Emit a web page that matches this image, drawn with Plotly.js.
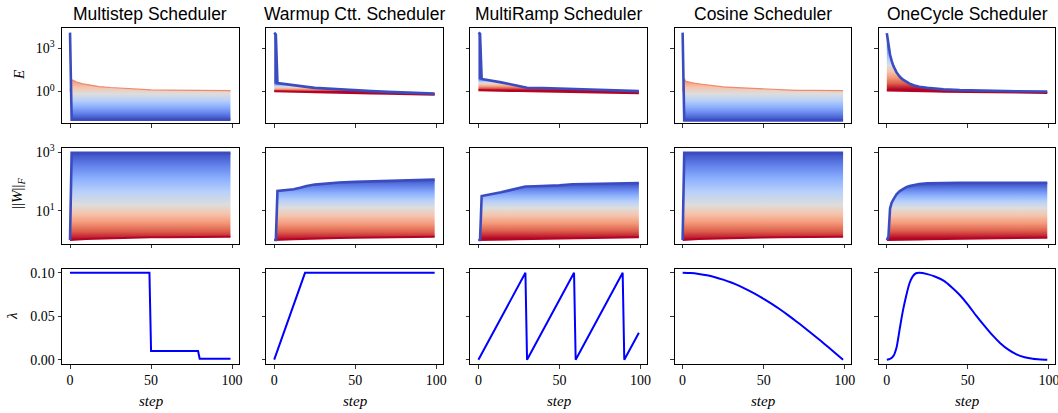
<!DOCTYPE html>
<html><head><meta charset="utf-8">
<script src="https://cdn.plot.ly/plotly-3.0.1.min.js"></script>
<style>html,body{margin:0;padding:0;background:#fff}</style>
</head><body><div id="chart" style="width:1058px;height:413px"></div>
<script>
// ================= DATA =================
const schedulerTitles = ["Multistep Scheduler", "Warmup Ctt. Scheduler", "MultiRamp Scheduler", "Cosine Scheduler", "OneCycle Scheduler"];
const xTickVals = [0, 50, 100];
const eTickVals = [1, 1000];
const eTickText = ["10<sup>0</sup>", "10<sup>3</sup>"];
const wTickVals = [10, 1000];
const wTickText = ["10<sup>1</sup>", "10<sup>3</sup>"];
const lrTickVals = [0, 0.05, 0.1];

// Row 1: E  (bluest curve and reddest curve of each family)
const msE_steps = [0, 1, 2, 4, 8, 12, 18, 25, 30, 40, 50, 60, 70, 80, 90, 99];
const msE_blue  = [12000, 0.011, 0.011, 0.011, 0.011, 0.011, 0.011, 0.011, 0.011, 0.011, 0.011, 0.011, 0.011, 0.011, 0.011, 0.011];
const msE_red   = [1.0, 6.5, 6.0, 4.6, 3.4, 2.8, 2.2, 1.9, 1.75, 1.5, 1.3, 1.25, 1.22, 1.2, 1.18, 1.17];

const wuE_steps = [0, 1, 2, 4, 8, 12, 16, 20, 25, 30, 40, 50, 60, 70, 80, 90, 99];
const wuE_blue  = [12000, 9000, 3.8, 3.6, 3.2, 2.8, 2.4, 2.1, 1.8, 1.66, 1.35, 1.17, 1.07, 0.95, 0.83, 0.78, 0.72];
const wuE_red   = [1.05, 1.05, 1.04, 1.03, 1.02, 1.0, 0.97, 0.94, 0.9, 0.86, 0.81, 0.76, 0.73, 0.69, 0.66, 0.62, 0.59];

const mrE_steps = [0, 1, 2, 5, 9, 14, 19, 24, 28, 30, 40, 48, 56, 65, 79, 81, 90, 99];
const mrE_blue  = [12000, 10000, 7.4, 6.6, 5.4, 4.3, 3.3, 2.6, 2.15, 1.82, 1.75, 1.62, 1.48, 1.4, 1.26, 1.15, 1.1, 1.07];
const mrE_red   = [1.23, 1.23, 1.22, 1.2, 1.17, 1.13, 1.1, 1.07, 1.06, 1.05, 1.0, 0.96, 0.93, 0.9, 0.84, 0.83, 0.8, 0.76];

const cosE_steps = [0, 1, 2, 4, 7, 12, 18, 25, 30, 40, 50, 60, 70, 80, 90, 99];
const cosE_blue  = [12000, 0.010, 0.010, 0.010, 0.010, 0.010, 0.010, 0.010, 0.010, 0.010, 0.010, 0.010, 0.010, 0.010, 0.010, 0.010];
const cosE_red   = [1.0, 8.0, 5.0, 4.3, 3.8, 3.2, 2.6, 2.1, 1.95, 1.7, 1.45, 1.3, 1.22, 1.2, 1.18, 1.17];

const ocE_steps = [0, 1, 2, 3, 4, 6, 8, 10, 12, 14, 17, 20, 25, 30, 35, 45, 55, 65, 80, 99];
const ocE_blue  = [11000, 1600, 355, 132, 60, 21, 10.5, 6.6, 4.6, 3.5, 2.6, 2.14, 1.78, 1.55, 1.41, 1.26, 1.17, 1.1, 1.05, 1.0];
const ocE_red   = [1.2, 1.19, 1.18, 1.17, 1.16, 1.14, 1.12, 1.1, 1.09, 1.08, 1.06, 1.05, 1.03, 1.0, 0.98, 0.95, 0.92, 0.89, 0.85, 0.8];

// Row 2: ||W||_F
const msW_steps = [0, 1, 2, 5, 10, 20, 30, 40, 50, 60, 70, 80, 90, 99];
const msW_blue  = [1.0, 960, 960, 960, 960, 960, 960, 960, 960, 960, 960, 960, 960, 960];
const msW_red   = [1.0, 1.0, 1.02, 1.05, 1.08, 1.13, 1.17, 1.2, 1.23, 1.25, 1.26, 1.27, 1.28, 1.29];

const wuW_steps = [0, 1, 2, 5, 8, 12, 16, 20, 25, 30, 40, 50, 60, 70, 80, 90, 99];
const wuW_blue  = [1.0, 1.0, 48, 50, 52.5, 55, 62, 71, 79, 85, 93, 98, 102, 105, 110, 112, 117];
const wuW_red   = [1.0, 1.0, 1.0, 1.02, 1.04, 1.07, 1.09, 1.11, 1.13, 1.15, 1.17, 1.2, 1.22, 1.25, 1.27, 1.29, 1.3];

const mrW_steps = [0, 1, 2, 5, 9, 14, 19, 24, 29, 35, 40, 50, 58, 65, 70, 80, 87, 99];
const mrW_blue  = [1.0, 1.0, 32, 34, 37, 43, 50, 59, 68, 69, 69.5, 74, 81, 83, 83.5, 85, 87, 89];
const mrW_red   = [1.0, 1.0, 1.0, 1.0, 1.01, 1.03, 1.05, 1.07, 1.08, 1.1, 1.11, 1.13, 1.15, 1.17, 1.18, 1.2, 1.21, 1.23];

const cosW_steps = [0, 1, 2, 5, 10, 20, 30, 40, 50, 60, 70, 80, 90, 99];
const cosW_blue  = [1.0, 960, 960, 960, 960, 960, 960, 960, 960, 960, 960, 960, 960, 960];
const cosW_red   = [1.0, 1.0, 1.02, 1.05, 1.08, 1.13, 1.17, 1.2, 1.22, 1.24, 1.26, 1.27, 1.28, 1.29];

const ocW_steps = [0, 1, 2, 3, 4, 6, 8, 10, 12, 14, 16, 20, 25, 30, 35, 45, 60, 80, 99];
const ocW_blue  = [1.0, 1.3, 12, 19, 24, 37, 47, 56, 64, 70, 75, 82, 87, 89, 90, 91, 91, 91, 91];
const ocW_red   = [1.0, 1.0, 1.0, 1.0, 1.0, 1.0, 1.0, 1.01, 1.02, 1.03, 1.04, 1.05, 1.07, 1.08, 1.09, 1.11, 1.14, 1.17, 1.2];

// Row 3: learning rate lambda
const msL_steps = [0, 49, 50, 79, 80, 99];
const msL_lr    = [0.1, 0.1, 0.01, 0.01, 0.001, 0.001];
const wuL_steps = [0, 19, 99];
const wuL_lr    = [0, 0.1, 0.1];
const mrL_steps = [0, 29, 30, 59, 60, 89, 90, 99];
const mrL_lr    = [0, 0.1, 0, 0.1, 0, 0.1, 0, 0.031];
const cosL_steps = [0, 5, 10, 15, 20, 25, 30, 35, 40, 45, 50, 55, 60, 65, 70, 75, 80, 85, 90, 95, 99];
const cosL_lr    = [0.1, 0.0997, 0.0987, 0.0972, 0.095, 0.0922, 0.0889, 0.085, 0.0805, 0.0756, 0.0701, 0.0643, 0.058, 0.0513, 0.0443, 0.0371, 0.0296, 0.022, 0.0142, 0.0063, 0];
const ocL_steps = [0, 2, 4, 6, 8, 10, 12, 14, 16, 18, 20, 25, 30, 35, 40, 45, 50, 55, 60, 65, 70, 75, 80, 85, 90, 95, 99];
const ocL_lr    = [0, 0.0008, 0.004, 0.014, 0.036, 0.057, 0.074, 0.088, 0.096, 0.0995, 0.1, 0.0985, 0.0955, 0.091, 0.0835, 0.0745, 0.0635, 0.051, 0.0395, 0.0285, 0.019, 0.0115, 0.006, 0.0028, 0.001, 0.0003, 0];

// ================= STYLE / LAYOUT =================
const W = 1058, H = 413;
const colLeft = [62, 266.2, 470.4, 674.6, 878.8];
const colWidth = 176.5;
const rowTop = [28, 148, 268.5];
const rowBot = [123, 243.5, 364];
const coolwarm = [[0,'#3b4cc0'],[0.125,'#6282ea'],[0.25,'#8db0fe'],[0.375,'#b8d0f9'],[0.5,'#dddddd'],[0.625,'#f5c4ad'],[0.75,'#f49a7b'],[0.875,'#de604d'],[1,'#b40426']];
const BLUE = '#3b4cc0', RED = '#b40426';
const CLEAR = 'rgba(0,0,0,0)';

// gradient anchors in log10 units: [blue end, neutral, red end]
const panels = [
  {r:0, c:0, s:msE_steps,  b:msE_blue,  d:msE_red,  g:[-1.96,-0.16,1.64], rc:'#ef8a6c', rw:1.2},
  {r:0, c:1, s:wuE_steps,  b:wuE_blue,  d:wuE_red,  g:[0.58,0.32,0.0],   rc:RED, rw:2},
  {r:0, c:2, s:mrE_steps,  b:mrE_blue,  d:mrE_red,  g:[0.9,0.6,0.1],     rc:RED, rw:2},
  {r:0, c:3, s:cosE_steps, b:cosE_blue, d:cosE_red, g:[-2.0,-0.16,1.64], rc:'#ef8a6c', rw:1.2},
  {r:0, c:4, s:ocE_steps,  b:ocE_blue,  d:ocE_red,  g:[3.5,1.8,0.15],    rc:RED, rw:2},
  {r:1, c:0, s:msW_steps,  b:msW_blue,  d:msW_red,  g:[3.0,1.2,0.0],     rc:RED, rw:2},
  {r:1, c:1, s:wuW_steps,  b:wuW_blue,  d:wuW_red,  g:[2.1,1.1,0.0],     rc:RED, rw:2},
  {r:1, c:2, s:mrW_steps,  b:mrW_blue,  d:mrW_red,  g:[1.95,1.1,0.05],   rc:RED, rw:2},
  {r:1, c:3, s:cosW_steps, b:cosW_blue, d:cosW_red, g:[3.0,1.2,0.0],     rc:RED, rw:2},
  {r:1, c:4, s:ocW_steps,  b:ocW_blue,  d:ocW_red,  g:[1.95,1.1,0.05],   rc:RED, rw:2}
];
const lrPanels = [
  {c:0, s:msL_steps, y:msL_lr, smooth:false}, {c:1, s:wuL_steps, y:wuL_lr, smooth:false},
  {c:2, s:mrL_steps, y:mrL_lr, smooth:false}, {c:3, s:cosL_steps, y:cosL_lr, smooth:true},
  {c:4, s:ocL_steps, y:ocL_lr, smooth:true}
];

function gradientFor(g) {
  const lb = g[0], lg = g[1], lr = g[2];
  const lo = Math.min(lb, lr), hi = Math.max(lb, lr);
  const blueLow = lb < lr;
  const gp = (lg - lo) / (hi - lo);
  const stops = coolwarm.map(function(e) {
    const u = blueLow ? e[0] : 1 - e[0];
    let p = u <= 0.5 ? (u / 0.5) * gp : gp + ((u - 0.5) / 0.5) * (1 - gp);
    p = Math.round(p * 1e6) / 1e6;
    return [p, e[1]];
  }).sort(function(a, b) { return a[0] - b[0]; });
  stops[0][0] = 0; stops[stops.length - 1][0] = 1;
  return {type: 'vertical', colorscale: stops, start: Math.pow(10, lo), stop: Math.pow(10, hi)};
}

function axId(r, c) { return r * 5 + c + 1; }
const traces = [];
panels.forEach(function(p) {
  const k = axId(p.r, p.c);
  const xa = 'x' + k, ya = 'y' + k;
  traces.push({x: p.s, y: p.d, xaxis: xa, yaxis: ya, mode: 'lines', line: {color: CLEAR, width: 0.5},
    hoverinfo: 'skip', showlegend: false});
  traces.push({x: p.s, y: p.b, xaxis: xa, yaxis: ya, mode: 'lines', line: {color: CLEAR, width: 0.5},
    fill: 'tonexty', fillcolor: '#dddddd', fillgradient: gradientFor(p.g), hoverinfo: 'skip', showlegend: false});
  traces.push({x: p.s, y: p.d, xaxis: xa, yaxis: ya, mode: 'lines', line: {color: p.rc, width: p.rw}, hoverinfo: 'skip', showlegend: false});
  traces.push({x: p.s, y: p.b, xaxis: xa, yaxis: ya, mode: 'lines', line: {color: BLUE, width: 2.6}, hoverinfo: 'skip', showlegend: false});
});
lrPanels.forEach(function(p) {
  const k = axId(2, p.c);
  const ln = p.smooth ? {color: '#0000ff', width: 2, shape: 'spline', smoothing: 0.6} : {color: '#0000ff', width: 2};
  traces.push({x: p.s, y: p.y, xaxis: 'x' + k, yaxis: 'y' + k, mode: 'lines',
    line: ln, hoverinfo: 'skip', showlegend: false});
});

const tickFont = {family: 'Liberation Serif, DejaVu Serif, serif', size: 14, color: '#000'};
const layout = {
  width: W, height: H, margin: {l: 0, r: 0, t: 0, b: 0},
  paper_bgcolor: '#fff', plot_bgcolor: '#fff', showlegend: false,
  font: tickFont, annotations: []
};
const yRanges = [[-2.18, 4.40], [-0.12, 3.15], [-0.005, 0.105]];
for (let r = 0; r < 3; r++) {
  for (let c = 0; c < 5; c++) {
    const k = axId(r, c);
    const common = {showline: true, mirror: true, linecolor: '#000', linewidth: 1, ticks: 'outside',
      ticklen: 3.5, tickwidth: 0.8, tickcolor: '#000', showgrid: false, zeroline: false, tickfont: tickFont,
      fixedrange: true, ticklabeloverflow: 'allow'};
    const xax = Object.assign({}, common, {
      domain: [colLeft[c] / W, (colLeft[c] + colWidth) / W], range: [-4.95, 103.95],
      tickmode: 'array', tickvals: xTickVals, ticktext: xTickVals.map(String),
      showticklabels: r === 2, anchor: 'y' + k
    });
    const yax = Object.assign({}, common, {
      domain: [1 - rowBot[r] / H, 1 - rowTop[r] / H], range: yRanges[r],
      showticklabels: c === 0, anchor: 'x' + k
    });
    if (r === 0) Object.assign(yax, {type: 'log', tickmode: 'array', tickvals: eTickVals, ticktext: eTickText});
    if (r === 1) Object.assign(yax, {type: 'log', tickmode: 'array', tickvals: wTickVals, ticktext: wTickText});
    if (r === 2) Object.assign(yax, {tickmode: 'array', tickvals: lrTickVals, ticktext: lrTickVals.map(function(v){return v.toFixed(2);})});
    layout['xaxis' + k] = xax;
    layout['yaxis' + k] = yax;
  }
}
// Titles and x labels
schedulerTitles.forEach(function(t, c) {
  layout.annotations.push({text: t, xref: 'paper', yref: 'paper', x: (colLeft[c] + colWidth / 2) / W, y: 1 - 13.5 / H,
    xanchor: 'center', yanchor: 'middle', showarrow: false,
    font: {family: 'Liberation Sans, Arial, sans-serif', size: 17.5, color: '#000'}});
  layout.annotations.push({text: '<i>step</i>', xref: 'paper', yref: 'paper', x: (colLeft[c] + 8 + 50 * 1.62) / W, y: 1 - 401 / H,
    xanchor: 'center', yanchor: 'middle', showarrow: false,
    font: {family: 'Liberation Serif, serif', size: 15, color: '#000'}});
});
const yLabels = [
  {t: '<i>E</i>', x: 19, y: 75},
  {t: '||<i>W</i>||<sub><i>F</i></sub>', x: 18, y: 193},
  {t: '<i>λ</i>', x: 12, y: 316}
];
yLabels.forEach(function(l) {
  layout.annotations.push({text: l.t, xref: 'paper', yref: 'paper', x: l.x / W, y: 1 - l.y / H,
    xanchor: 'center', yanchor: 'middle', textangle: -90, showarrow: false,
    font: {family: 'Liberation Serif, serif', size: 15, color: '#000'}});
});

Plotly.newPlot('chart', traces, layout, {staticPlot: true, displayModeBar: false});
</script></body></html>
